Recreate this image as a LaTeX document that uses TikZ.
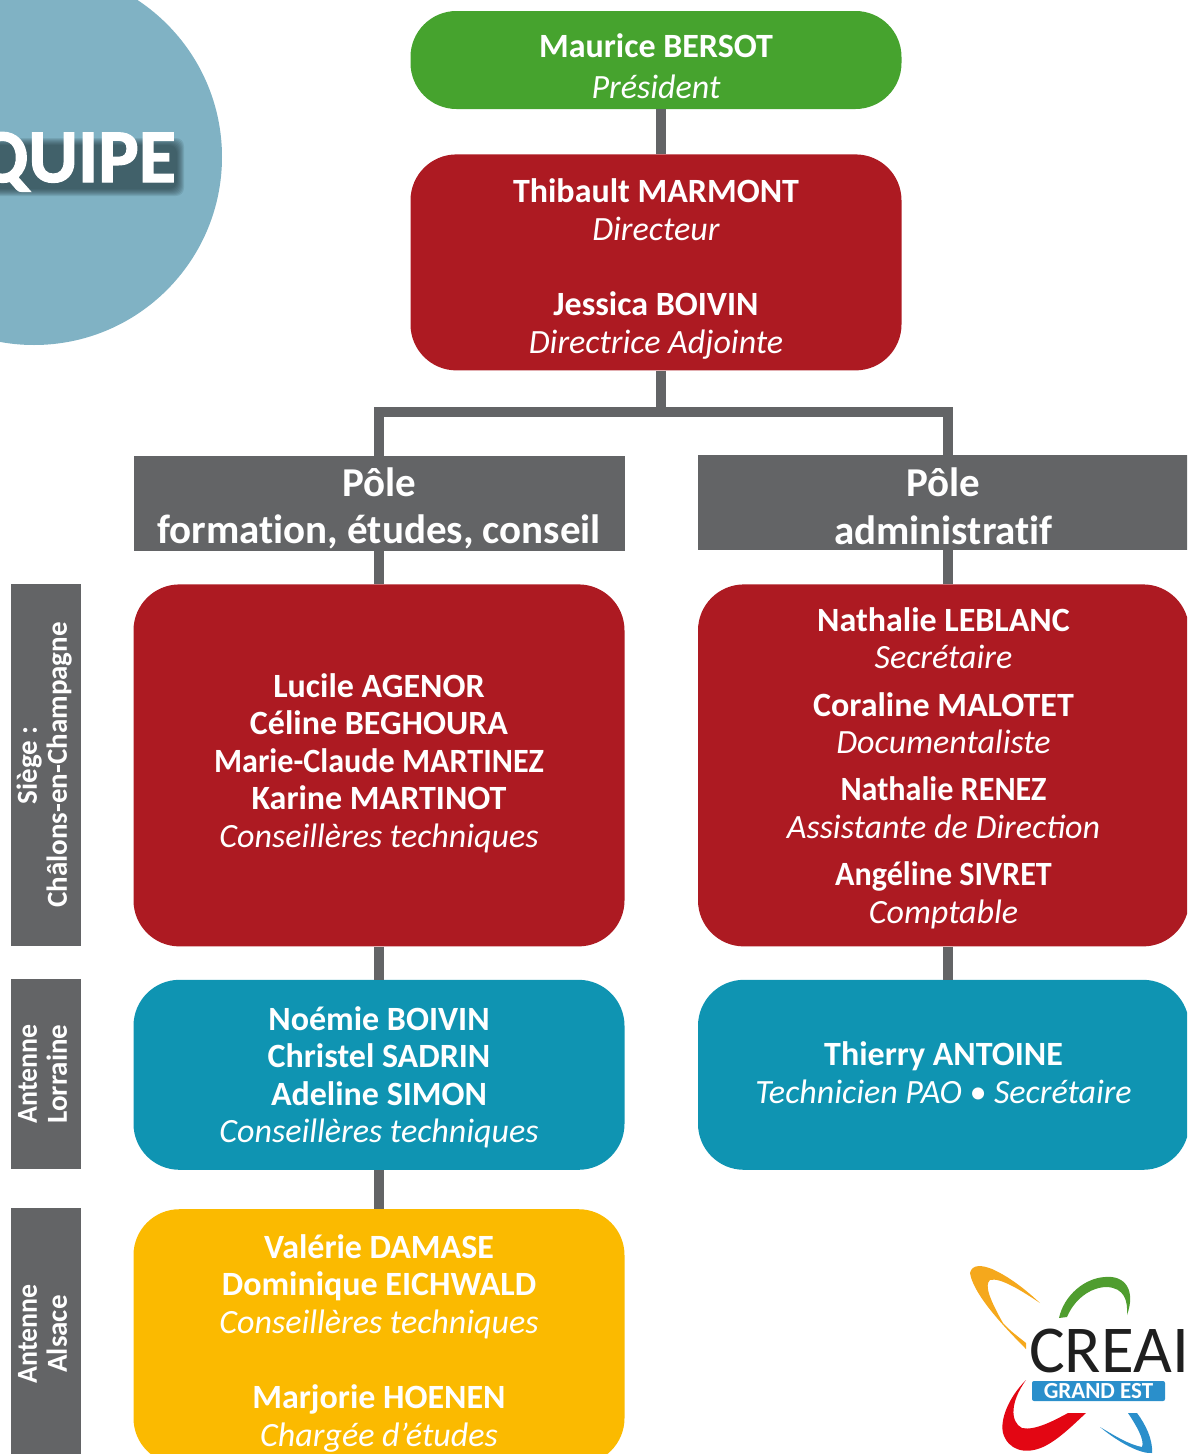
\documentclass[tikz,border=0pt]{standalone}
\usepackage{fontspec}
\setmainfont{Carlito}
\newfontfamily\polefont[Ligatures=NoCommon]{Carlito}
\newfontfamily\titlefont[BoldFeatures={FakeBold=1.6}]{Carlito}
\usetikzlibrary{positioning}
\definecolor{creaired}{HTML}{AD1A22}
\definecolor{creaigreen}{HTML}{46A32E}
\definecolor{creaiteal}{HTML}{0F94B2}
\definecolor{creaiyellow}{HTML}{FBBA00}
\definecolor{creaigrey}{HTML}{636466}
\definecolor{creaicircle}{HTML}{80B2C4}
\definecolor{logoblue}{HTML}{2A8FCB}
\definecolor{logoyellow}{HTML}{F5A81C}
\definecolor{logogreen}{HTML}{4F9D2F}
\definecolor{logored}{HTML}{E30613}
\definecolor{haze}{HTML}{22383F}
\newcommand{\lift}[1]{\rule{0pt}{#1}}
\newcommand{\sink}[1]{\rule[-#1]{0pt}{#1}}
\newcommand{\tight}[1]{\scalebox{0.945}[1]{#1}}
\newcommand{\sitename}[2]{\rotatebox{90}{\raisebox{5pt}{\begin{tabular}{@{}c@{}}#1\\#2\end{tabular}}}}
\tikzset{
  box/.style={rounded corners=46pt,minimum width=491pt,inner sep=0pt,align=center,text=white,
    font=\fontsize{34}{37.6}\selectfont},
  pole/.style={fill=creaigrey,minimum width=491pt,minimum height=95pt,inner sep=0pt,align=center,text=white,
    font=\fontsize{41}{47.5}\selectfont\polefont\bfseries},
  site/.style={fill=creaigrey,minimum width=70pt,inner sep=0pt,align=center,text=white,
    font=\fontsize{29}{30}\selectfont\bfseries},
  link/.style={draw=creaigrey,line width=10pt}
}
\begin{document}
\begin{tikzpicture}[x=1pt,y=-1pt,node distance=33pt]
	\useasboundingbox (0,0) rectangle (1187,1454);
	\clip (0,0) rectangle (1187,1454);
	% title disc
	\fill[creaicircle] (34,157) circle (188pt);
	\foreach \inset in {0,1,...,7}
		\fill[haze,opacity=0.12,rounded corners=8pt] (-20,138+\inset) rectangle (184-\inset,196-\inset);
	\node[inner sep=0pt,anchor=base east,text=white,font=\fontsize{76}{76}\selectfont\titlefont\bfseries] (title) at (176,182) {ÉQUIPE};
	% top of the chart
	\node[box,fill=creaigreen,minimum height=98pt] (president) at (656,60) {\lift{37pt}\textbf{Maurice BERSOT}\\[3.5pt]\textit{Président}};
	\node[box,fill=creaired,minimum height=216pt,below=45pt of president] (direction) {\lift{37pt}\textbf{Thibault MARMONT}\\\textit{Directeur}\\[37.5pt]\textbf{Jessica BOIVIN}\\\textit{Directrice Adjointe}};
	% poles
	\node[pole] (formation) at (379,503.5) {\lift{39pt}Pôle\\formation, études, conseil};
	\node[pole] (admin) at (943.5,502.5) {\lift{36pt}Pôle\\administratif};
	% first row
	\node[box,fill=creaired,minimum height=362pt,below=33pt of formation] (siege) {\textbf{Lucile AGENOR}\\\textbf{Céline BEGHOURA}\\\textbf{\tight{Marie-Claude MARTINEZ}}\\\textbf{Karine MARTINOT}\\\textit{Conseillères techniques}\sink{10pt}};
	\node[box,fill=creaired,minimum height=362pt,below=34pt of admin] (siegeadmin) {\lift{29pt}\textbf{Nathalie LEBLANC}\\\textit{Secrétaire}\\[9.5pt]\textbf{Coraline MALOTET}\\\textit{Documentaliste}\\[9.5pt]\textbf{\tight{Nathalie RENEZ}}\\\textit{Assistante de Direction}\\[9.5pt]\textbf{\tight{Angéline SIVRET}}\\\textit{Comptable}};
	% second row
	\node[box,fill=creaiteal,minimum height=190pt,below=of siege] (lorraine) {\lift{29pt}\textbf{Noémie BOIVIN}\\\textbf{Christel SADRIN}\\\textbf{Adeline SIMON}\\\textit{Conseillères techniques}};
	\node[box,fill=creaiteal,minimum height=190pt,below=of siegeadmin] (pao) {\textbf{Thierry ANTOINE}\\\textit{Technicien PAO • Secrétaire}\sink{5pt}};
	% third row
	\node[box,fill=creaiyellow,minimum height=255pt,below=39pt of lorraine] (alsace) {\lift{37pt}\textbf{Valérie DAMASE}\\\textbf{Dominique EICHWALD}\\\textit{Conseillères techniques}\\[37.5pt]\textbf{Marjorie HOENEN}\\\textit{Chargée d’études}};
	% side labels
	\node[site,minimum height=362pt] (lblsiege) at (46,765) {\sitename{Siège :}{Châlons-en-Champagne}};
	\node[site,minimum height=190pt] (lbllorraine) at (46,1074) {\sitename{\scalebox{0.96}[1]{Antenne}}{Lorraine}};
	\node[site,minimum height=252pt] (lblalsace) at (46,1334) {\sitename{\scalebox{0.96}[1]{Antenne}}{Alsace}};
	% connectors
	\coordinate (fork) at (661,412);
	\coordinate (forkl) at (379,412);
	\coordinate (forkr) at (948,412);
	\draw[link] (president.south -| fork) -- (direction.north -| fork);
	\draw[link] (direction.south -| fork) -- (fork);
	\draw[link] (formation.north -| forkl) -- (forkl) -- (forkr) -- (admin.north -| forkr);
	\draw[link] (formation.south -| forkl) -- (siege.north -| forkl);
	\draw[link] (admin.south -| forkr) -- (siegeadmin.north -| forkr);
	\draw[link] (siege.south -| forkl) -- (lorraine.north -| forkl);
	\draw[link] (siegeadmin.south -| forkr) -- (pao.north -| forkr);
	\draw[link] (lorraine.south -| forkl) -- (alsace.north -| forkl);
	% logo
	\fill[logoyellow] (1026,1349) .. controls (997,1320) and (973,1292) .. (970,1273) .. controls (972,1264) and (982,1265) .. (992,1269) .. controls (1010,1277) and (1026,1290) .. (1040,1303) .. controls (1022,1291) and (1000,1277) .. (990,1280) .. controls (984,1285) and (990,1300) .. (1003,1323) .. controls (1010,1331) and (1020,1338) .. (1026,1343) -- cycle;
	\fill[logogreen] (1059,1318) .. controls (1064,1295) and (1085,1278) .. (1105,1277) .. controls (1125,1275) and (1136,1290) .. (1127,1315) .. controls (1128,1300) and (1124,1288) .. (1107,1287) .. controls (1090,1287) and (1074,1300) .. (1067,1317) -- cycle;
	\fill[logored] (1026,1380) .. controls (1008,1398) and (1000,1420) .. (1003,1433) .. controls (1008,1450) and (1025,1455) .. (1043,1447) .. controls (1058,1440) and (1072,1426) .. (1086,1413) -- (1068,1413) .. controls (1055,1420) and (1035,1431) .. (1022,1428) .. controls (1010,1422) and (1010,1402) .. (1026,1380) -- cycle;
	\fill[logoblue] (1128,1413) -- (1137,1413) .. controls (1146,1425) and (1153,1440) .. (1152,1453) .. controls (1140,1454) and (1118,1442) .. (1100,1427) .. controls (1115,1436) and (1130,1445) .. (1142,1447) .. controls (1145,1440) and (1136,1425) .. (1128,1413) -- cycle;
	\node[inner sep=0pt,anchor=base west,font=\fontsize{67}{67}\selectfont,text=black!88] (creai) at (1029,1372) {CREAI};
	\node[fill=logoblue,text=white,inner sep=0pt,minimum width=133pt,minimum height=20pt,rounded corners=2pt,font=\fontsize{23}{23}\selectfont\bfseries] (grandest) at (1098.5,1391) {GRAND EST};
\end{tikzpicture}
\end{document}
